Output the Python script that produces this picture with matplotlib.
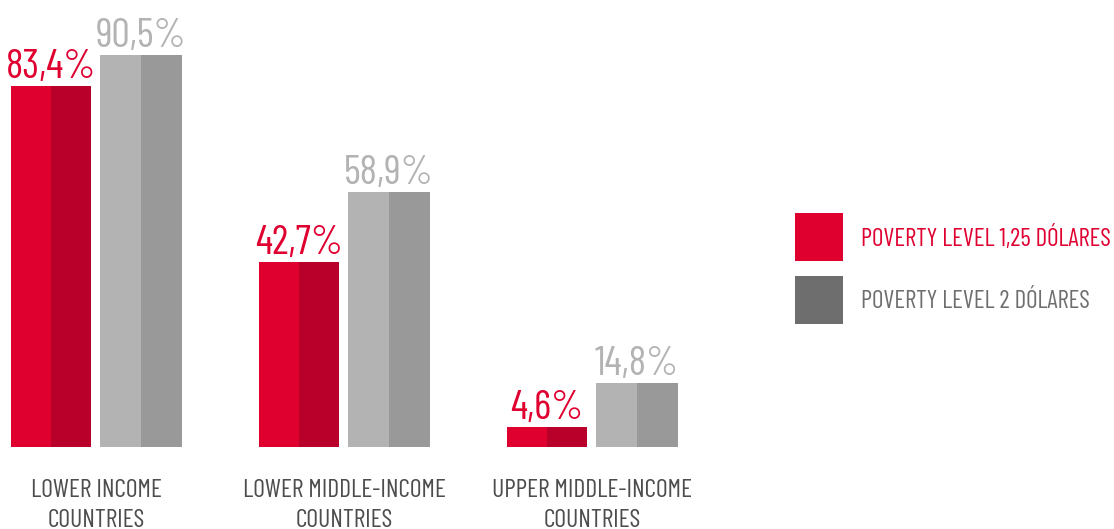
import matplotlib.pyplot as plt
from matplotlib.patches import Rectangle

categories = ['LOWER INCOME\nCOUNTRIES', 'LOWER MIDDLE-INCOME\nCOUNTRIES', 'UPPER MIDDLE-INCOME\nCOUNTRIES']
level_125 = [83.4, 42.7, 4.6]
level_2 = [90.5, 58.9, 14.8]
series_names = ['POVERTY LEVEL 1,25 DÓLARES', 'POVERTY LEVEL 2 DÓLARES']

plt.rcParams['font.family'] = ['Barlow Condensed', 'DejaVu Sans']

red_light, red_dark = '#DF0030', '#B8002A'
grey_light, grey_dark = '#B3B3B3', '#999999'
legend_red, legend_grey = '#DF0030', '#6E6E6E'

fig = plt.figure(figsize=(11.14, 5.29), dpi=100)
ax = fig.add_axes([0, 0, 1, 1])
# x in pixel-like units, y in percent (baseline 82px above bottom, 4.33 px per %)
ppu = 4.33
ax.set_xlim(0, 1114)
ax.set_ylim(-82 / ppu, (529 - 82) / ppu)
ax.axis('off')

step = 248
for i, cat in enumerate(categories):
    x_red = 11 + step * i
    x_grey = 100 + step * i
    # each bar split in two shades
    ax.bar(x_red, level_125[i], width=40, align='edge', color=red_light, lw=0)
    ax.bar(x_red + 40, level_125[i], width=40, align='edge', color=red_dark, lw=0)
    ax.bar(x_grey, level_2[i], width=41, align='edge', color=grey_light, lw=0)
    ax.bar(x_grey + 41, level_2[i], width=41, align='edge', color=grey_dark, lw=0)

    ax.text(x_red + 40, level_125[i] + 8 / ppu, f'{level_125[i]:.1f}%'.replace('.', ','),
            ha='center', va='baseline', fontsize=29.5, color=red_light, weight=400)
    ax.text(x_grey + 41, level_2[i] + 8 / ppu, f'{level_2[i]:.1f}%'.replace('.', ','),
            ha='center', va='baseline', fontsize=29.5, color=grey_light, weight=400)

    ax.text(x_red + 85, -32 / ppu, cat, ha='center', va='top', fontsize=18.5,
            color='#4D4D4D', linespacing=1.4, weight=400)

# legend
for j, (name, col) in enumerate(zip(series_names, [legend_red, legend_grey])):
    y_top = 213 + 63 * j
    fig.patches.append(Rectangle((795 / 1114, 1 - (y_top + 48) / 529), 48 / 1114, 48 / 529,
                                 transform=fig.transFigure, color=col, lw=0))
    fig.text(861 / 1114, 1 - (y_top + 25) / 529, name, ha='left', va='center',
             fontsize=18, color=col, weight=400)

fig.savefig('out.png', dpi=100)
